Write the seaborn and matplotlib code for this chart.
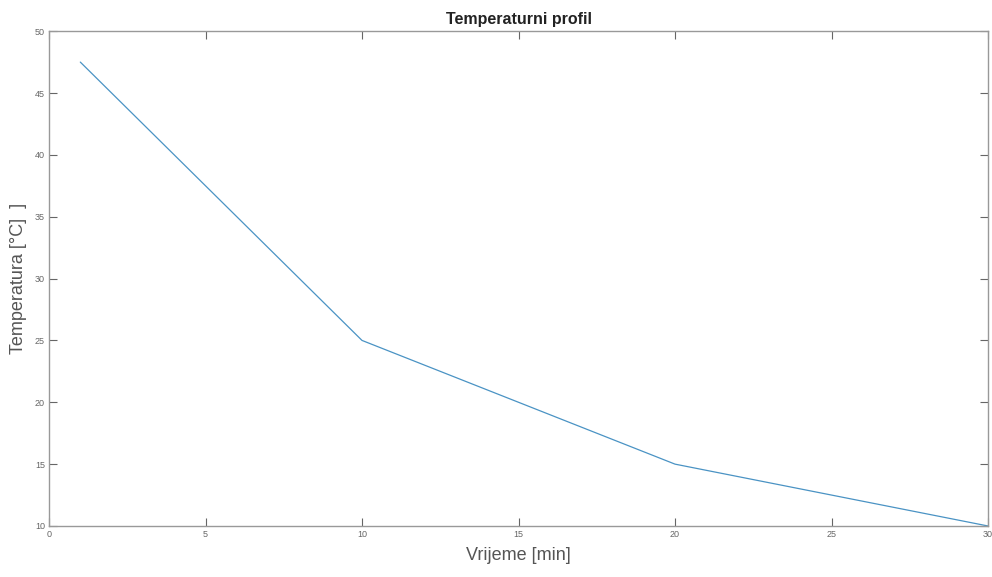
import numpy as np
import pandas as pd
import matplotlib
matplotlib.use("Agg")
import matplotlib.pyplot as plt
import seaborn as sns

vrijeme = [1, 10, 20, 30]
temperatura = [47.5, 25, 15, 10]

sns.set_style("white")
plt.rcParams['font.family'] = ['Liberation Sans', 'DejaVu Sans']

df = pd.DataFrame({"t": vrijeme, "T": temperatura})
fig = plt.figure(figsize=(9.92, 5.77), dpi=100)
ax = fig.add_axes([0.0494, 0.0884, 0.9466, 0.8576])
sns.lineplot(data=df, x="t", y="T", ax=ax, color="#4a93c4", linewidth=0.9)

ax.set_xlim(0, 30)
ax.set_ylim(10, 50)
ax.set_xticks(np.arange(0, 31, 5))
ax.set_yticks(np.arange(10, 51, 5))
ax.tick_params(direction="in", length=6, width=0.8, colors="#666666", labelsize=6.5,
               bottom=True, left=True, top=True, right=True,
               labeltop=False, labelright=False, pad=3)
for s in ax.spines.values():
    s.set_color("#999999")
    s.set_linewidth(1.0)
ax.set_xlabel("Vrijeme [min]", fontsize=13, color="#555555", labelpad=6)
ax.set_ylabel("Temperatura [°C]  ]", fontsize=13, color="#555555", labelpad=6)
ax.set_title("Temperaturni profil", fontsize=11.5, fontweight="bold", color="#222222", pad=5)

fig.savefig("out.png", dpi=100)
